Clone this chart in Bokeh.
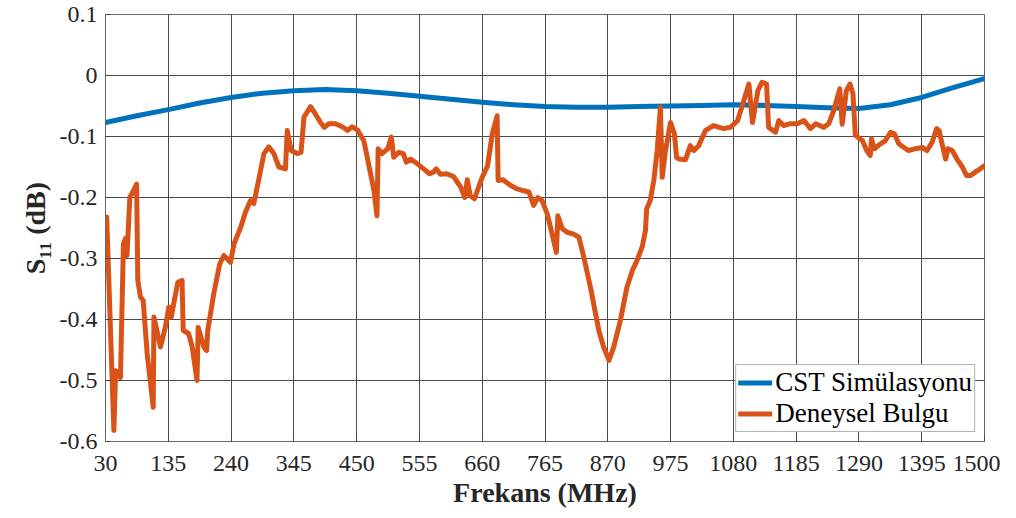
from bokeh.plotting import figure
from bokeh.models import FixedTicker, Legend, LegendItem
from bokeh.embed import file_html
from bokeh.resources import INLINE

# --- data -----------------------------------------------------------------
freq_sim = [30, 82.5, 135, 187.5, 240, 292.5, 345, 397.5, 450, 502.5, 555, 607.5,
            660, 712.5, 765, 817.5, 870, 922.5, 975, 1027.5, 1080, 1132.5, 1185,
            1237.5, 1290, 1342.5, 1395, 1447.5, 1500]
s11_sim = [-0.077, -0.066, -0.056, -0.045, -0.036, -0.029, -0.025, -0.023, -0.025,
           -0.029, -0.034, -0.039, -0.044, -0.048, -0.051, -0.052, -0.052, -0.051,
           -0.050, -0.049, -0.048, -0.049, -0.051, -0.053, -0.054, -0.048, -0.036,
           -0.020, -0.005]

freq_meas = [32, 44, 47, 55, 60, 63.5, 66, 70.7, 75.6, 82, 84, 88.5, 93, 99.7, 109.8,
             111, 122, 130, 136, 140, 145, 151, 158, 160, 169, 175, 183, 185, 194.5,
             199, 201, 211, 221, 228, 239, 245, 256, 264, 272.5, 278, 286, 295, 303,
             311.5, 320, 331, 334, 340.5, 350.6, 357, 362, 373, 381, 389.6, 396, 403.5,
             414.6, 425.9, 435, 442.6, 452, 462, 470, 479, 484, 486, 492.6, 502, 508,
             512, 520.5, 528, 533, 540, 548, 559.5, 572, 579, 583, 590, 601, 612.5, 624,
             631, 635, 640, 647, 654, 660, 669, 676.7, 685, 686.6, 695, 707, 718.5,
             729.6, 738, 746, 753, 760, 768.7, 777, 784, 786.5, 793.7, 802, 813, 821.6,
             830, 841, 855, 863, 872, 880, 891, 902, 911, 919, 927.5, 933, 935, 941, 947,
             952.6, 958, 961, 966.5, 975, 981.5, 985, 989, 1000, 1008, 1014, 1022, 1033.5,
             1047, 1056, 1064, 1075, 1087, 1096, 1106, 1112, 1121, 1128, 1135.5, 1139,
             1150.5, 1156, 1164, 1175.6, 1187, 1198, 1209, 1217.6, 1231, 1239.6, 1248,
             1258, 1262, 1269, 1275, 1280, 1284, 1296, 1303, 1309, 1311, 1316, 1326, 1334,
             1343, 1349.5, 1356.7, 1365, 1373, 1384.6, 1396, 1404, 1412.6, 1420, 1424,
             1429, 1435, 1439, 1446, 1454, 1463, 1470, 1476.6, 1485, 1493, 1500]
s11_meas = [-0.232, -0.582, -0.484, -0.495, -0.276, -0.267, -0.295, -0.200, -0.191, -0.178,
            -0.336, -0.363, -0.369, -0.456, -0.544, -0.396, -0.445, -0.413, -0.380, -0.396,
            -0.369, -0.339, -0.336, -0.418, -0.423, -0.445, -0.500, -0.413, -0.445, -0.451,
            -0.418, -0.358, -0.309, -0.295, -0.306, -0.276, -0.249, -0.224, -0.205, -0.210,
            -0.172, -0.128, -0.117, -0.128, -0.150, -0.153, -0.090, -0.123, -0.128, -0.126,
            -0.068, -0.051, -0.063, -0.077, -0.085, -0.079, -0.079, -0.084, -0.090, -0.084,
            -0.090, -0.107, -0.145, -0.189, -0.230, -0.120, -0.128, -0.120, -0.101, -0.134,
            -0.126, -0.128, -0.142, -0.137, -0.142, -0.151, -0.161, -0.158, -0.153, -0.162,
            -0.161, -0.166, -0.183, -0.200, -0.171, -0.197, -0.202, -0.183, -0.167, -0.148,
            -0.096, -0.066, -0.172, -0.171, -0.180, -0.186, -0.189, -0.191, -0.213, -0.200,
            -0.205, -0.227, -0.260, -0.290, -0.230, -0.251, -0.257, -0.260, -0.265, -0.298,
            -0.347, -0.418, -0.445, -0.467, -0.445, -0.402, -0.347, -0.320, -0.303, -0.281,
            -0.254, -0.219, -0.205, -0.172, -0.123, -0.052, -0.167, -0.123, -0.077, -0.096,
            -0.134, -0.137, -0.138, -0.115, -0.123, -0.115, -0.090, -0.082, -0.085, -0.087,
            -0.085, -0.074, -0.046, -0.014, -0.077, -0.025, -0.011, -0.014, -0.085, -0.093,
            -0.074, -0.082, -0.079, -0.079, -0.074, -0.087, -0.079, -0.085, -0.079, -0.057,
            -0.022, -0.080, -0.025, -0.014, -0.030, -0.098, -0.107, -0.123, -0.131, -0.104,
            -0.120, -0.112, -0.107, -0.093, -0.096, -0.112, -0.118, -0.123, -0.120, -0.118,
            -0.123, -0.109, -0.087, -0.090, -0.112, -0.137, -0.120, -0.123, -0.137, -0.150,
            -0.164, -0.164, -0.158, -0.153, -0.148]

x_ticks = [30, 135, 240, 345, 450, 555, 660, 765, 870, 975, 1080, 1185, 1290, 1395, 1500]
y_ticks = [-0.6, -0.5, -0.4, -0.3, -0.2, -0.1, 0.0, 0.1]
y_tick_labels = ["-0.6", "-0.5", "-0.4", "-0.3", "-0.2", "-0.1", "0", "0.1"]

series_names = ["CST Simülasyonu", "Deneysel Bulgu"]
x_title = "Frekans (MHz)"
y_title = "S\u2081\u2081 (dB)"

# --- figure ---------------------------------------------------------------
FONT = "Liberation Serif"
p = figure(width=1000, height=518, x_range=(30, 1500), y_range=(-0.6, 0.1),
           output_backend="svg", toolbar_location=None,
           min_border_left=105, min_border_right=16, min_border_top=14,
           min_border_bottom=77)
p.background_fill_color = "white"
p.border_fill_color = "white"
p.outline_line_color = "#666666"
p.outline_line_width = 1

p.xaxis.ticker = FixedTicker(ticks=x_ticks)
p.yaxis.ticker = FixedTicker(ticks=y_ticks)
p.yaxis.major_label_overrides = {t: s for t, s in zip(y_ticks, y_tick_labels)}
p.xaxis.major_label_overrides = {t: str(t) for t in x_ticks}

for ax in (p.xaxis, p.yaxis):
    ax.major_label_text_font = FONT
    ax.major_label_text_font_size = "24px"
    ax.major_label_text_color = "#262626"
    ax.axis_label_text_font = FONT
    ax.axis_label_text_font_size = "28px"
    ax.axis_label_text_font_style = "bold"
    ax.axis_label_text_color = "#262626"
    ax.axis_line_color = "#666666"
    ax.major_tick_in = 5
    ax.major_tick_out = 0
    ax.major_tick_line_color = "#444444"
    ax.minor_tick_line_color = None

p.xaxis.axis_label = x_title
p.yaxis.axis_label = y_title
p.xaxis.major_label_standoff = 14
p.xaxis.axis_label_standoff = 3
p.yaxis.major_label_standoff = 8
p.yaxis.axis_label_standoff = 6

p.xgrid.grid_line_color = "#4a4a4a"
p.ygrid.grid_line_color = "#4a4a4a"
p.xgrid.grid_line_width = 1
p.ygrid.grid_line_width = 1

r_sim = p.line(freq_sim, s11_sim, line_color="#0072BD", line_width=5,
               line_join="round", line_cap="round")
r_meas = p.line(freq_meas, s11_meas, line_color="#D95319", line_width=5,
                line_join="round", line_cap="round")

legend = Legend(items=[LegendItem(label=series_names[0], renderers=[r_sim]),
                       LegendItem(label=series_names[1], renderers=[r_meas])],
                location="bottom_right")
legend.label_text_font = FONT
legend.label_text_font_size = "27px"
legend.label_text_color = "#000000"
legend.glyph_width = 34
legend.glyph_height = 29
legend.label_standoff = 3
legend.label_height = 29
legend.spacing = 0
legend.padding = 2
legend.margin = 9
legend.border_line_color = "#666666"
legend.border_line_width = 1
legend.background_fill_color = "white"
legend.background_fill_alpha = 1.0
p.add_layout(legend)

open("out.html", "w").write(file_html(p, INLINE))
